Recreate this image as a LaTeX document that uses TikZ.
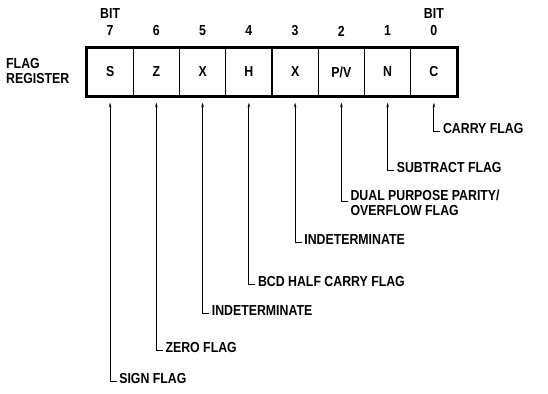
\documentclass[tikz,border=0pt]{standalone}
\usepackage{fontspec}
\setmainfont{Liberation Sans}[FakeStretch=0.85]
\usetikzlibrary{arrows.meta}
\begin{document}
\begin{tikzpicture}[x=1pt,y=1pt,
  every node/.style={font=\bfseries\fontsize{14.5}{15}\selectfont, inner sep=0pt},
  cell/.style={draw, line width=1.1pt, minimum width=46.25pt, minimum height=48pt, anchor=center},
  lab/.style={anchor=west, align=left, inner sep=0pt},
  arr/.style={line width=0.9pt, -{Stealth[length=5pt,width=2.6pt]}},
  hdr/.style={anchor=center}]
\useasboundingbox (0,0) rectangle (548,393);
% cells (y up: 393 - y_px)
\foreach \n/\t [count=\i from 0] in {7/S,6/Z,5/X,4/H,3/X,2/{P/V},1/N,0/C}{
  \node[cell] (c\n) at ({87+46.25*\i+23.125}, 321) {\t};
  \node[hdr] (d\n) at ({87+46.25*\i+23.125}, 362) {\n};
}
\draw[line width=2.8pt] (c7.north west) rectangle (c0.south east);
\node[hdr] (b7) at (c7 |- 0,379) {BIT};
\node[hdr] (b0) at (c0 |- 0,379) {BIT};
\node[anchor=west, align=left] (fr) at (6,322) {FLAG\\REGISTER};
% labels
\node[lab] (l0) at ([xshift=9pt]c0.center |- 0,264) {CARRY FLAG};
\node[lab] (l1) at ([xshift=9pt]c1.center |- 0,225) {SUBTRACT FLAG};
\node[lab] (l2) at ([xshift=9pt]c2.center |- 0,190) {DUAL PURPOSE PARITY/\\OVERFLOW FLAG};
\node[lab] (l3) at ([xshift=9pt]c3.center |- 0,153) {INDETERMINATE};
\node[lab] (l4) at ([xshift=9pt]c4.center |- 0,111) {BCD HALF CARRY FLAG};
\node[lab] (l5) at ([xshift=9pt]c5.center |- 0,82) {INDETERMINATE};
\node[lab] (l6) at ([xshift=9pt]c6.center |- 0,45) {ZERO FLAG};
\node[lab] (l7) at ([xshift=9pt]c7.center |- 0,14) {SIGN FLAG};
\foreach \k/\dy in {0/-2,1/-2,2/2,3/-2,4/-2,5/-2,6/-2,7/-2}{
  \draw[arr] ([xshift=-2.5pt,yshift=\dy pt]l\k.west) -| ([yshift=-6pt]c\k.south);
}
\end{tikzpicture}
\end{document}
